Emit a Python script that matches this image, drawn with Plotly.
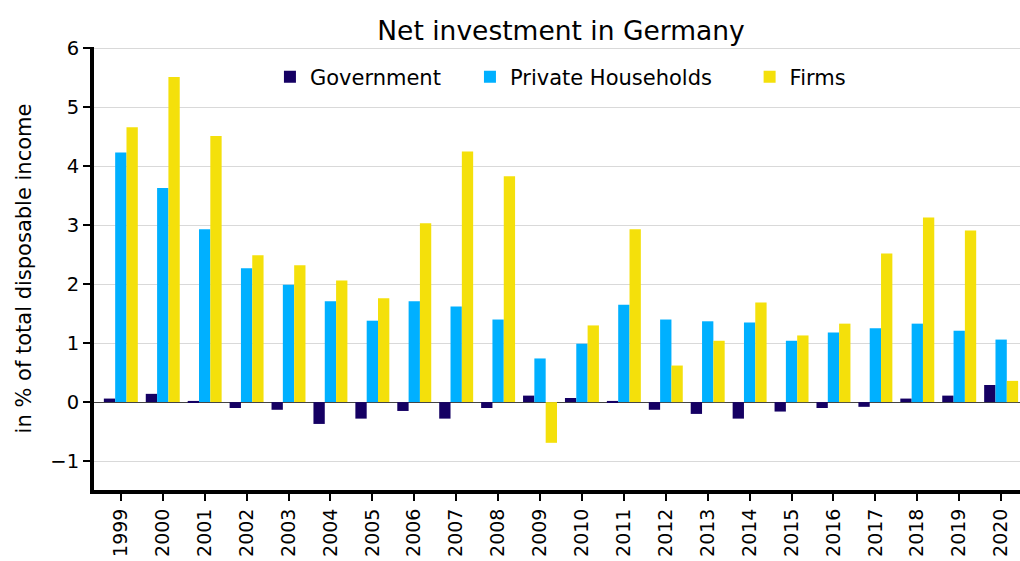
import plotly.graph_objects as go

years = [str(y) for y in range(1999, 2021)]
government = [0.06, 0.14, 0.02, -0.10, -0.13, -0.37, -0.28, -0.15, -0.28, -0.10, 0.11,
              0.07, 0.02, -0.13, -0.20, -0.28, -0.16, -0.10, -0.08, 0.06, 0.11, 0.29]
households = [4.23, 3.63, 2.93, 2.27, 1.99, 1.71, 1.38, 1.71, 1.62, 1.40, 0.74,
              0.99, 1.65, 1.40, 1.37, 1.35, 1.04, 1.18, 1.25, 1.33, 1.21, 1.06]
firms = [4.66, 5.51, 4.51, 2.49, 2.32, 2.06, 1.76, 3.03, 4.25, 3.83, -0.69,
         1.30, 2.93, 0.62, 1.04, 1.69, 1.13, 1.33, 2.52, 3.13, 2.91, 0.36]

series = [("Government", government, "#150063", "legend"),
          ("Private Households", households, "#00b0ff", "legend2"),
          ("Firms", firms, "#f4e00b", "legend3")]

fig = go.Figure()
for name, vals, color, leg in series:
    fig.add_bar(x=list(range(len(years))), y=vals, name=name, legend=leg,
                showlegend=True, marker=dict(color=color, line_width=0))

# one legend per entry so the spacing can follow the original
legend_style = dict(orientation="h", xanchor="left", y=0.932, yanchor="middle",
                    font=dict(size=21), bgcolor="rgba(0,0,0,0)")

fig.update_layout(
    width=1020, height=561,
    showlegend=True,
    font=dict(family="DejaVu Sans", size=19, color="black"),
    plot_bgcolor="white", paper_bgcolor="white",
    margin=dict(l=94, r=0, t=47, b=71, autoexpand=False),
    barmode="group", bargap=0.19, bargroupgap=0,
    title=dict(text="Net investment in Germany", x=0.55, xanchor="center",
               y=0.946, yanchor="middle", font=dict(size=26.5)),
    legend=dict(x=0.190, **legend_style),
    legend2=dict(x=0.406, **legend_style),
    legend3=dict(x=0.708, **legend_style),
    xaxis=dict(range=[-0.64, 21.45], tickmode="array", tickvals=list(range(len(years))),
               ticktext=years, tickangle=-90, tickfont=dict(size=19),
               showline=True, linewidth=4, linecolor="black",
               ticks="outside", ticklen=7, tickwidth=1.5, tickcolor="black",
               showgrid=False, zeroline=False, automargin=False),
    yaxis=dict(range=[-1.49, 6.02], dtick=1, showgrid=True, gridcolor="#d9d9d9",
               gridwidth=1, zeroline=True, zerolinecolor="#444444", zerolinewidth=1,
               showline=True, linewidth=4, linecolor="black", tickfont=dict(size=19.5),
               ticks="outside", ticklen=7, tickwidth=1.5, tickcolor="black",
               automargin=False,
               title=dict(text="in % of total disposable income", standoff=14,
                          font=dict(size=21))),
)

# drop the default 8px body margin so the figure fills the window
fig.write_html("out.html", config={"displayModeBar": False},
               post_script="document.body.style.margin='0';")
